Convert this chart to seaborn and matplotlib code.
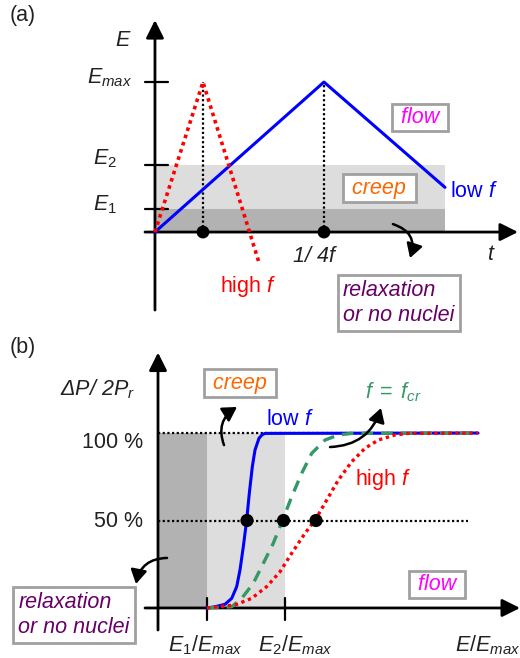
import matplotlib
matplotlib.use("Agg")
import matplotlib.pyplot as plt
import pandas as pd
import seaborn as sns

# panel (a): field E against time, time in units of 1/4f of the low-f signal
t_high = [0.0, 0.284, 0.617]
E_high = [0.0, 1.0, -0.209]
t_low = [0.0, 1.0, 1.716]
E_low = [0.0, 1.0, 0.298]
E_ticks = [0.153, 0.447, 1.0]
E_tick_labels = [r"$E_\mathrm{1}$", r"$E_\mathrm{2}$", r"$E_{max}$"]
peak_t = [0.284, 1.0]
shade_end_a = 1.716

# panel (b): switched polarisation against normalised field
x_low = [0.49, 0.57, 0.67, 0.737, 0.787, 0.82, 0.853, 0.887, 0.913, 0.943,
         0.97, 1.01, 1.04, 1.07, 3.2]
p_low = [0.0, 0.007, 0.021, 0.055, 0.122, 0.217, 0.35, 0.503, 0.655, 0.807,
         0.903, 0.97, 0.99, 0.998, 1.0]
x_cr = [0.49, 0.737, 0.837, 0.953, 1.053, 1.153, 1.253, 1.337, 1.437, 1.537,
        1.67, 1.803, 1.937, 3.2]
p_cr = [0.0, 0.007, 0.055, 0.141, 0.255, 0.37, 0.513, 0.636, 0.77, 0.884,
        0.96, 0.989, 0.998, 1.0]
x_high = [0.49, 0.603, 0.77, 0.937, 1.087, 1.22, 1.337, 1.47, 1.577, 1.687,
          1.803, 1.937, 2.07, 2.203, 2.37, 2.503, 3.2]
p_high = [0.0, 0.007, 0.017, 0.055, 0.122, 0.207, 0.313, 0.427, 0.507, 0.617,
          0.731, 0.836, 0.913, 0.96, 0.989, 0.998, 1.0]
half_x = [0.89, 1.255, 1.58]
levels = [0.5, 1.0]
level_ends = [3.1, 3.2]
level_labels = ["50 %", "100 %"]
x_ticks_b = [0.49, 1.27]
x_tick_labels_b = [r"$E_\mathrm{1}/E_{max}$", r"$E_\mathrm{2}/E_{max}$"]

BLUE = "#0000ff"
RED = "#ff0000"
GREEN = "#339966"
DARK = "#b2b2b2"
LIGHT = "#dddddd"
INK = "#222222"
FS = 15.5

sns.set_style("white")
plt.rcParams["font.family"] = ["Liberation Sans", "DejaVu Sans"]
plt.rcParams["mathtext.fontset"] = "custom"
plt.rcParams["mathtext.rm"] = "Liberation Sans"
plt.rcParams["mathtext.it"] = "Liberation Sans:italic"
plt.rcParams["mathtext.bf"] = "Liberation Sans:bold"

axis_arrow = dict(arrowstyle="-|>,head_length=0.9,head_width=0.45",
                  mutation_scale=12, lw=2, color="black", shrinkA=0, shrinkB=0)


def curved(ax, start, end, rad):
    ax.annotate("", xy=end, xytext=start, zorder=6,
                arrowprops=dict(arrowstyle="-|>,head_length=0.6,head_width=0.35",
                                mutation_scale=14, lw=1.8, color="black",
                                connectionstyle=f"arc3,rad={rad}",
                                shrinkA=0, shrinkB=0))


def boxed(ax, x, y, s, color, ha="center", va="baseline", pad=0.15):
    ax.text(x, y, s, color=color, fontsize=FS, style="italic", ha=ha, va=va,
            zorder=7,
            bbox=dict(boxstyle=f"square,pad={pad}", fc="white", ec="#a0a0a0", lw=2))


def panel_a(ax):
    ax.fill_between([0, shade_end_a], 0, E_ticks[0], color=DARK, lw=0, zorder=1)
    ax.fill_between([0, shade_end_a], E_ticks[0], E_ticks[1], color=LIGHT, lw=0, zorder=1)
    for i, tp in enumerate(peak_t):
        peak = [E_high[1], E_low[1]][i]
        ax.plot([tp, tp], [0, peak], color="black", lw=1.6, ls=(0, (1, 1.1)), zorder=2)
    sns.lineplot(x=t_low, y=E_low, ax=ax, color=BLUE, lw=2.2, sort=False, zorder=4)
    sns.lineplot(x=t_high, y=E_high, ax=ax, color=RED, lw=2.6, sort=False,
                 linestyle=(0, (1, 1.1)), zorder=5)
    sns.scatterplot(x=peak_t, y=[0, 0], ax=ax, color="black", s=85, zorder=6,
                    edgecolor="none")
    ax.annotate("", xy=(2.148, 0), xytext=(-0.059, 0), arrowprops=axis_arrow, zorder=3)
    ax.annotate("", xy=(0, 1.413), xytext=(0, -0.52), arrowprops=axis_arrow, zorder=3)
    for e in E_ticks:
        ax.plot([-0.059, 0.077], [e, e], color="black", lw=1.6, zorder=3)
    ax.text(-0.136, 0.993, E_tick_labels[2], fontsize=FS, color=INK, ha="right", va="baseline")
    ax.text(-0.225, 0.453, E_tick_labels[1], fontsize=FS, color=INK, ha="right", va="baseline")
    ax.text(-0.227, 0.147, E_tick_labels[0], fontsize=FS, color=INK, ha="right", va="baseline")
    ax.text(-0.189, 1.28, "E", fontsize=FS, style="italic", color=INK, ha="center", va="center")
    ax.text(1.982, -0.187, "t", fontsize=FS, style="italic", color=INK, ha="center", va="baseline")
    ax.text(0.941, -0.2, "1/ 4f", fontsize=FS, style="italic", color=INK, ha="center", va="baseline")
    ax.text(0.553, -0.397, "high $f$", fontsize=FS, color=RED, ha="center", va="baseline")
    ax.text(1.746, 0.233, "low $f$", fontsize=FS, color=BLUE, ha="left", va="baseline")
    boxed(ax, 1.568, 0.727, " flow ", "#ff00ff")
    boxed(ax, 1.328, 0.293, " creep ", "#ff6600", va="center")
    boxed(ax, 1.112, -0.473, "relaxation\nor no nuclei", "#660066", ha="left",
          va="center", pad=0.25)
    curved(ax, (1.408, 0.053), (1.509, -0.173), -0.5)
    ax.set_xlim(-0.917, 2.160)
    ax.set_ylim(-0.653, 1.547)
    ax.set_axis_off()


def panel_b(ax):
    ax.fill_between([0, x_ticks_b[0]], 0, 1, color=DARK, lw=0, zorder=1)
    ax.fill_between(x_ticks_b, 0, 1, color=LIGHT, lw=0, zorder=1)
    for lv, end in zip(levels, level_ends):
        ax.plot([0, end], [lv, lv], color="black", lw=1.6, ls=(0, (1, 1.1)), zorder=2)
    curves = pd.DataFrame({
        "x": x_low + x_cr + x_high,
        "p": p_low + p_cr + p_high,
        "f": ["low"] * len(x_low) + ["cr"] * len(x_cr) + ["high"] * len(x_high),
    })
    sns.lineplot(data=curves[curves.f == "low"], x="x", y="p", ax=ax, color=BLUE,
                 lw=2.2, sort=False, zorder=4)
    sns.lineplot(data=curves[curves.f == "cr"], x="x", y="p", ax=ax, color=GREEN,
                 lw=2.4, sort=False, linestyle=(0, (3.5, 2.4)), zorder=5)
    sns.lineplot(data=curves[curves.f == "high"], x="x", y="p", ax=ax, color=RED,
                 lw=2.4, sort=False, linestyle=(0, (1, 1.1)), zorder=6)
    sns.scatterplot(x=half_x, y=[levels[0]] * 3, ax=ax, color="black", s=90,
                    zorder=7, edgecolor="none")
    ax.annotate("", xy=(3.62, 0), xytext=(-0.13, 0), arrowprops=axis_arrow, zorder=3)
    ax.annotate("", xy=(0, 1.46), xytext=(0, -0.126), arrowprops=axis_arrow, zorder=3)
    for xt in x_ticks_b:
        ax.plot([xt, xt], [0.057, -0.069], color="black", lw=1.6, zorder=3)
    ax.text(0.47, -0.246, x_tick_labels_b[0], fontsize=FS, color=INK, ha="center", va="baseline")
    ax.text(1.37, -0.246, x_tick_labels_b[1], fontsize=FS, color=INK, ha="center", va="baseline")
    ax.text(3.295, -0.246, r"$E/E_{max}$", fontsize=FS, color=INK, ha="center", va="baseline")
    ax.text(-0.15, 0.914, level_labels[1], fontsize=FS, color=INK, ha="right", va="baseline")
    ax.text(-0.15, 0.463, level_labels[0], fontsize=FS, color=INK, ha="right", va="baseline")
    ax.text(-0.23, 1.217, "ΔP/ 2P$_r$", fontsize=FS, style="italic", color=INK,
            ha="right", va="baseline")
    ax.text(1.32, 1.046, "low $f$", fontsize=FS, color=BLUE, ha="center", va="baseline")
    ax.text(2.07, 1.2, r"$f\;\mathrm{=}\;f_{cr}$", fontsize=FS, color=GREEN, ha="left",
            va="baseline")
    ax.text(1.97, 0.703, "high $f$", fontsize=FS, color=RED, ha="left", va="baseline")
    boxed(ax, 0.82, 1.286, " creep ", "#ff6600", va="center")
    boxed(ax, 2.79, 0.103, " flow ", "#ff00ff")
    boxed(ax, -1.397, -0.04, "relaxation\nor no nuclei", "#660066", ha="left",
          va="center", pad=0.25)
    curved(ax, (0.66, 0.931), (0.79, 1.149), -0.4)
    curved(ax, (1.72, 0.92), (2.23, 1.143), 0.35)
    curved(ax, (0.09, 0.286), (-0.22, 0.137), 0.4)
    ax.set_xlim(-1.58, 3.62)
    ax.set_ylim(-0.286, 1.589)
    ax.set_axis_off()


def main():
    fig = plt.figure(figsize=(5.2, 6.58), dpi=100)
    ax_a = fig.add_axes([0, 1 - 330 / 658, 1, 330 / 658])
    ax_b = fig.add_axes([0, 0, 1, 328 / 658])
    panel_a(ax_a)
    panel_b(ax_b)
    fig.text(10 / 520, 1 - 15 / 658, "(a)", fontsize=FS, color=INK, ha="left", va="center")
    fig.text(10 / 520, 1 - 348 / 658, "(b)", fontsize=FS, color=INK, ha="left", va="center")
    fig.savefig("out.png", dpi=100)


if __name__ == "__main__":
    main()
